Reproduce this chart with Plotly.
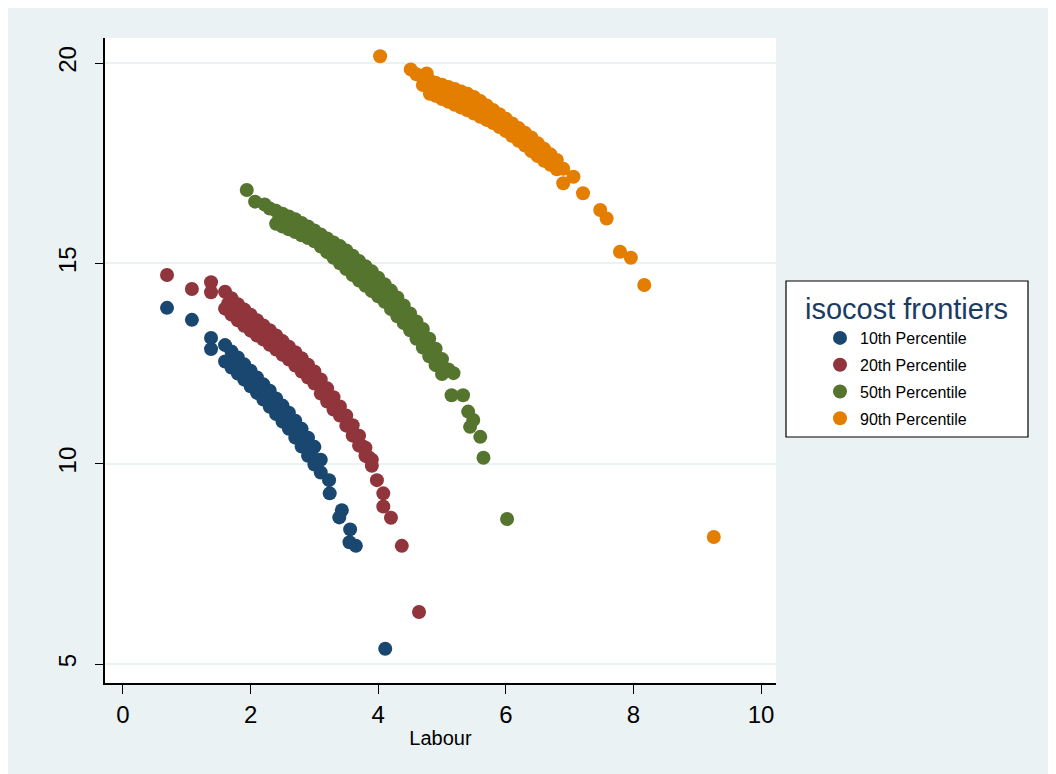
import plotly.graph_objects as go

# ---------------- data ----------------
series_names = ["10th Percentile", "20th Percentile", "50th Percentile", "90th Percentile"]
series_colors = ["#1a476f", "#90353b", "#55752f", "#e37e00"]

p10_x = [0.69, 1.08, 1.38, 1.38,
         1.6, 1.7, 1.8, 1.9, 2.0, 2.1, 2.2, 2.3, 2.4, 2.5, 2.6, 2.7, 2.8, 2.9, 3.0, 3.1,
         1.6, 1.7, 1.8, 1.9, 2.0, 2.1, 2.2, 2.3, 2.4, 2.5, 2.6, 2.7, 2.8, 2.9, 3.0, 3.1,
         1.75, 1.85, 1.95, 2.05, 2.15, 2.25, 2.35, 2.45, 2.55, 2.65, 2.75, 2.85, 2.95, 3.05,
         3.23, 3.24, 3.43, 3.39, 3.56, 3.55, 3.65, 4.11]
p10_y = [13.89, 13.59, 13.14, 12.86,
         12.96, 12.80, 12.65, 12.48, 12.32, 12.15, 11.98, 11.82, 11.63, 11.45, 11.27, 11.07, 10.87, 10.65, 10.42, 10.10,
         12.55, 12.40, 12.25, 12.10, 11.93, 11.77, 11.60, 11.42, 11.24, 11.05, 10.87, 10.65, 10.43, 10.20, 9.98, 9.78,
         12.55, 12.40, 12.22, 12.05, 11.88, 11.70, 11.52, 11.35, 11.16, 10.97, 10.76, 10.54, 10.30, 10.08,
         9.59, 9.26, 8.84, 8.66, 8.36, 8.04, 7.95, 5.38]

p20_x = [0.69, 1.08, 1.38, 1.38,
         1.6, 1.7, 1.8, 1.9, 2.0, 2.1, 2.2, 2.3, 2.4, 2.5, 2.6, 2.7, 2.8, 2.9, 3.0, 3.1, 3.2, 3.3, 3.4, 3.5, 3.6, 3.7, 3.8, 3.9,
         1.6, 1.7, 1.8, 1.9, 2.0, 2.1, 2.2, 2.3, 2.4, 2.5, 2.6, 2.7, 2.8, 2.9, 3.0, 3.1, 3.2, 3.3, 3.4, 3.5, 3.6, 3.7, 3.8, 3.9,
         1.65, 1.75, 1.85, 1.95, 2.05, 2.15, 2.25, 2.35, 2.45, 2.55, 2.65, 2.75, 2.85, 2.95, 3.05, 3.15, 3.25, 3.35, 3.45, 3.55, 3.65, 3.75, 3.85,
         3.98, 4.08, 4.08, 4.20, 4.37, 4.64]
p20_y = [14.71, 14.36, 14.53, 14.28,
         14.29, 14.13, 13.98, 13.85, 13.72, 13.58, 13.45, 13.33, 13.20, 13.06, 12.92, 12.78, 12.63, 12.47, 12.30, 12.10, 11.88, 11.66, 11.43, 11.20, 10.96, 10.70, 10.40, 10.10,
         13.87, 13.72, 13.58, 13.44, 13.32, 13.20, 13.10, 12.97, 12.85, 12.72, 12.60, 12.45, 12.30, 12.15, 12.00, 11.75, 11.55, 11.35, 11.20, 10.95, 10.70, 10.45, 10.20, 9.95,
         14.00, 13.85, 13.71, 13.58, 13.46, 13.33, 13.21, 13.09, 12.96, 12.83, 12.69, 12.54, 12.39, 12.23, 12.04, 11.82, 11.61, 11.41, 11.20, 10.95, 10.70, 10.44, 10.16,
         9.59, 9.26, 8.93, 8.65, 7.95, 6.30]

p50_x = [1.94, 2.07, 2.22,
         2.3, 2.4, 2.5, 2.6, 2.7, 2.8, 2.9, 3.0, 3.1, 3.2, 3.3, 3.4, 3.5, 3.6, 3.7, 3.8, 3.9, 4.0, 4.1, 4.2, 4.3, 4.4, 4.5, 4.6, 4.7, 4.8, 4.9, 5.0, 5.1,
         2.4, 2.5, 2.6, 2.7, 2.8, 2.9, 3.0, 3.1, 3.2, 3.3, 3.4, 3.5, 3.6, 3.7, 3.8, 3.9, 4.0, 4.1, 4.2, 4.3, 4.4, 4.5, 4.6, 4.7, 4.8, 4.9, 5.0,
         2.45, 2.55, 2.65, 2.75, 2.85, 2.95, 3.05, 3.15, 3.25, 3.35, 3.45, 3.55, 3.65, 3.75, 3.85, 3.95, 4.05, 4.15, 4.25, 4.35, 4.45, 4.55, 4.65, 4.75, 4.85, 4.95,
         5.18, 5.15, 5.33, 5.41, 5.49, 5.44, 5.60, 5.65, 6.02]
p50_y = [16.83, 16.54, 16.47,
         16.37, 16.31, 16.24, 16.17, 16.10, 16.01, 15.92, 15.82, 15.72, 15.62, 15.52, 15.43, 15.32, 15.19, 15.06, 14.93, 14.80, 14.64, 14.48, 14.32, 14.15, 13.95, 13.75, 13.55, 13.36, 13.12, 12.87, 12.61, 12.35,
         15.99, 15.92, 15.85, 15.78, 15.70, 15.63, 15.55, 15.42, 15.28, 15.14, 15.00, 14.86, 14.71, 14.57, 14.44, 14.31, 14.18, 14.04, 13.86, 13.68, 13.51, 13.33, 13.12, 12.90, 12.68, 12.46, 12.24,
         16.12, 16.05, 15.98, 15.90, 15.82, 15.73, 15.63, 15.51, 15.39, 15.27, 15.15, 15.02, 14.88, 14.75, 14.62, 14.48, 14.34, 14.18, 14.00, 13.82, 13.64, 13.44, 13.23, 13.02, 12.78, 12.55,
         12.26, 11.71, 11.71, 11.30, 11.09, 10.92, 10.67, 10.15, 8.62]

p90_x = [4.03, 4.51, 4.76, 4.81, 4.70, 4.80,
         4.6, 4.7, 4.8, 4.9, 5.0, 5.1, 5.2, 5.3, 5.4, 5.5, 5.6, 5.7, 5.8, 5.9, 6.0, 6.1, 6.2, 6.3, 6.4, 6.5, 6.6, 6.7, 6.8, 6.9,
         4.9, 5.0, 5.1, 5.2, 5.3, 5.4, 5.5, 5.6, 5.7, 5.8, 5.9, 6.0, 6.1, 6.2, 6.3, 6.4, 6.5, 6.6, 6.7, 6.8,
         4.95, 5.05, 5.15, 5.25, 5.35, 5.45, 5.55, 5.65, 5.75, 5.85, 5.95, 6.05, 6.15, 6.25, 6.35, 6.45, 6.55, 6.65, 6.75,
         6.90, 7.06, 7.21, 7.48, 7.58, 7.79, 7.96, 8.17, 9.26]
p90_y = [20.17, 19.84, 19.74, 19.23, 19.45, 19.38,
         19.72, 19.65, 19.58, 19.51, 19.46, 19.40, 19.35, 19.29, 19.23, 19.15, 19.05, 18.94, 18.83, 18.72, 18.61, 18.49, 18.38, 18.26, 18.14, 18.00, 17.86, 17.72, 17.58, 17.36,
         19.18, 19.10, 19.03, 18.96, 18.89, 18.82, 18.74, 18.66, 18.58, 18.50, 18.40, 18.30, 18.18, 18.06, 17.94, 17.80, 17.68, 17.56, 17.46, 17.35,
         19.31, 19.25, 19.19, 19.12, 19.06, 18.99, 18.90, 18.81, 18.71, 18.61, 18.51, 18.40, 18.28, 18.16, 18.04, 17.91, 17.78, 17.65, 17.53,
         17.00, 17.16, 16.75, 16.33, 16.12, 15.29, 15.14, 14.46, 8.17]

x_ticks = [0, 2, 4, 6, 8, 10]
y_ticks = [5, 10, 15, 20]
x_title = "Labour"
legend_title = "isocost frontiers"

# ---------------- figure ----------------
xs = [p10_x, p20_x, p50_x, p90_x]
ys = [p10_y, p20_y, p50_y, p90_y]

fig = go.Figure()
for name, color, x, y in zip(series_names, series_colors, xs, ys):
    fig.add_trace(go.Scatter(
        x=x, y=y, mode="markers", name=name, legendgroup=name,
        marker=dict(color=color, size=14, line=dict(width=0)),
    ))

BG = "#eaf2f3"
W, H = 1056, 774
L, T, PW, PH = 97, 30, 671, 645   # plot area (figure px)


def px(xp):  # screen px -> paper x
    return (xp - 8 - L) / PW


def py(yp):  # screen px -> paper y
    return (T + PH - (yp - 8)) / PH


fig.update_layout(
    width=W, height=H,
    margin=dict(l=L, r=W - L - PW, t=T, b=H - T - PH),
    paper_bgcolor=BG, plot_bgcolor="white",
    font=dict(family="Liberation Sans, Arial, sans-serif", color="black"),
    showlegend=True,
    legend=dict(
        x=px(820), xanchor="left",
        y=py(321), yanchor="top",
        bgcolor="rgba(0,0,0,0)", borderwidth=0,
        font=dict(size=16, family="Liberation Sans, Arial, sans-serif", color="black"),
        tracegroupgap=3,
    ),
    shapes=[
        dict(type="rect", xref="paper", yref="paper",
             x0=px(786), x1=px(1028), y0=py(437), y1=py(281),
             fillcolor="white", line=dict(color="black", width=1.2), layer="below"),
    ],
    annotations=[
        dict(text=legend_title, xref="paper", yref="paper",
             x=px(906.5), y=py(309),
             xanchor="center", yanchor="middle", showarrow=False,
             font=dict(size=29, color="#1c3b63", family="Liberation Sans, Arial, sans-serif")),
    ],
)

fig.update_xaxes(
    range=[-0.282, 10.235], tickvals=x_ticks, ticktext=[str(v) for v in x_ticks],
    showgrid=False, zeroline=False,
    showline=True, linecolor="black", linewidth=1.5,
    ticks="outside", ticklen=9, tickwidth=1.2, tickcolor="black",
    tickfont=dict(size=24, family="Liberation Sans Narrow, Liberation Sans, Arial"),
    title=dict(text=x_title, standoff=4,
               font=dict(size=20, family="Liberation Sans Narrow, Liberation Sans, Arial")),
)
fig.update_yaxes(
    range=[4.527, 20.624], tickvals=y_ticks, ticktext=[str(v) for v in y_ticks],
    showgrid=True, gridcolor=BG, gridwidth=2, zeroline=False,
    showline=True, linecolor="black", linewidth=1.5,
    ticks="outside", ticklen=8, tickwidth=1.2, tickcolor="black",
    tickangle=-90, ticklabelstandoff=10,
    tickfont=dict(size=24, family="Liberation Sans Narrow, Liberation Sans, Arial"),
)

fig.write_html("out.html")
